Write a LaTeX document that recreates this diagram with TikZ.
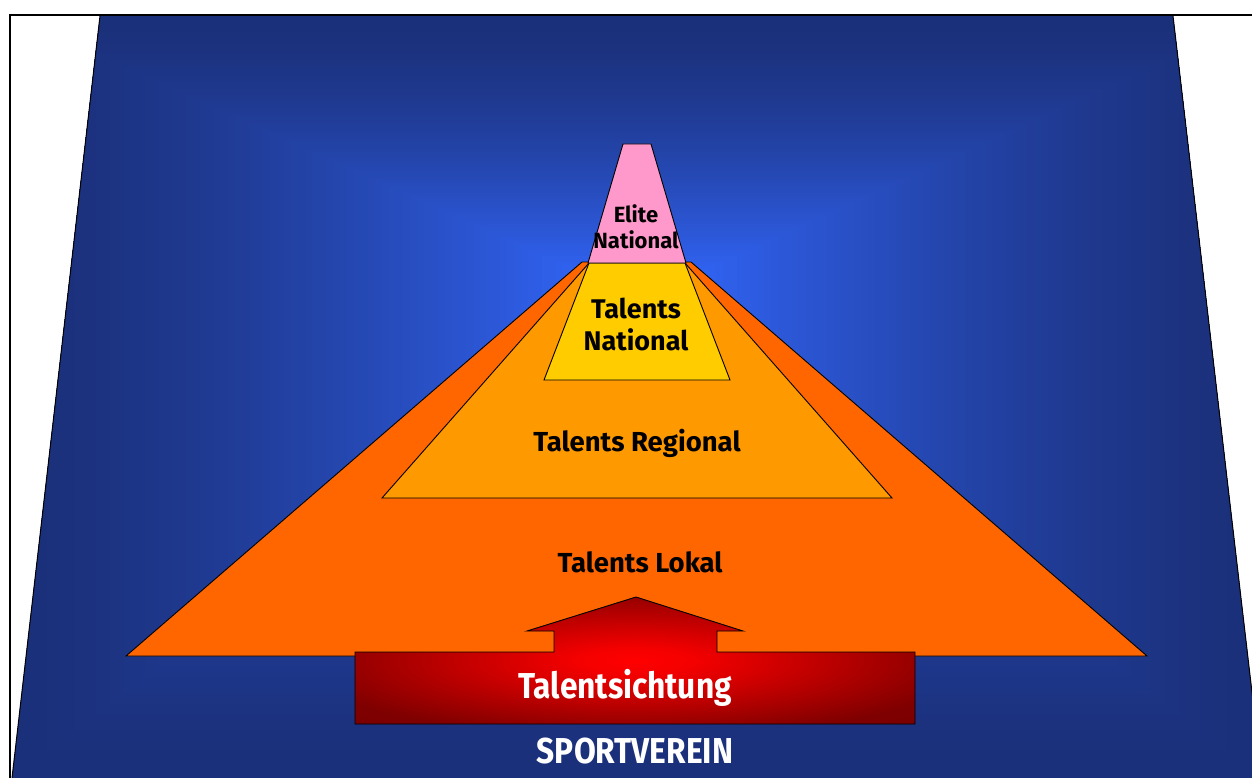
\documentclass[tikz,border=0pt]{standalone}
\usepackage{fontspec}
\setmainfont{Fira Sans}
\newfontfamily\condfont[FakeStretch=0.88]{Fira Sans}
\definecolor{outerblue}{RGB}{27,48,122}
\definecolor{innerblue}{RGB}{50,102,250}
\definecolor{orangeD}{HTML}{FF6600}
\definecolor{orangeL}{HTML}{FF9900}
\definecolor{yellowN}{HTML}{FFCC00}
\definecolor{pinkE}{HTML}{FF99CC}
\pgfdeclareradialshading{redglow}{\pgfpoint{0bp}{0bp}}{rgb(0bp)=(1,0,0); rgb(5bp)=(0.96,0,0); rgb(18bp)=(0.72,0,0); rgb(30bp)=(0.5,0,0); rgb(50bp)=(0.44,0,0)}
\tikzset{
  layer/.style={draw=black, line width=0.9pt, line join=miter},
  pyrtext/.style={font=\bfseries\fontsize{27.5}{32}\selectfont, text=black, align=center, inner sep=0pt},
  whitetext/.style={font=\condfont\bfseries\fontsize{36}{40}\selectfont, text=white, inner sep=0pt}
}
\begin{document}
\begin{tikzpicture}[x=1pt,y=-1pt]
\useasboundingbox (0,0) rectangle (1252,778);
\fill[white] (0,0) rectangle (1252,778);
% blue background trapezoid with rectangular gradient
\begin{scope}
\clip (100,16) -- (1173,16) -- (1262,778) -- (12,778) -- cycle;
\foreach \i in {0,...,89}{
  \pgfmathsetmacro\t{\i/90}
  \pgfmathsetmacro\p{min(100,100*(\t^1.5)*1.1)}
  \fill[innerblue!\p!outerblue] ({12+\t*(640-12)},{16+\t*(300-16)}) rectangle ({1262-\t*(1262-640)},{778-\t*(778-300)});
}
\end{scope}
\draw[line width=1pt] (100,16) -- (12,778);
\draw[line width=1pt] (1173,16) -- (1262,778);
\draw[line width=2pt] (10,778) -- (10,15) -- (1252,15);
% pyramid layers
\draw[layer, fill=orangeD] (126,656) -- (582,262) -- (691,262) -- (1147,656) -- cycle;
\draw[layer, fill=orangeL] (382,498) -- (589,263) -- (685,263) -- (892,498) -- cycle;
\draw[layer, fill=yellowN] (544,380) -- (589,263) -- (685,263) -- (730,380) -- cycle;
\draw[layer, fill=pinkE] (588,263) -- (623,144) -- (651,144) -- (686,263) -- cycle;
% arrow
\draw[layer, shading=redglow] (355,652) -- (554,652) -- (554,631) -- (527,631) -- (636,597) -- (743,631) -- (717,631) -- (717,652) -- (915,652) -- (915,724) -- (355,724) -- cycle;
% texts
\node[pyrtext, font=\bfseries\fontsize{22}{26}\selectfont] (elite) at (636,227) {Elite\\National};
\node[pyrtext, font=\bfseries\fontsize{27}{32}\selectfont] (tnat) at (636,324) {Talents\\National};
\node[pyrtext] (treg) at (637,443) {Talents Regional};
\node[pyrtext] (tlok) at (640,562) {Talents Lokal};
\node[whitetext] (sicht) at (625,688) {Talentsichtung};
\node[whitetext] (verein) at (635,751) {SPORTVEREIN};
\end{tikzpicture}
\end{document}
